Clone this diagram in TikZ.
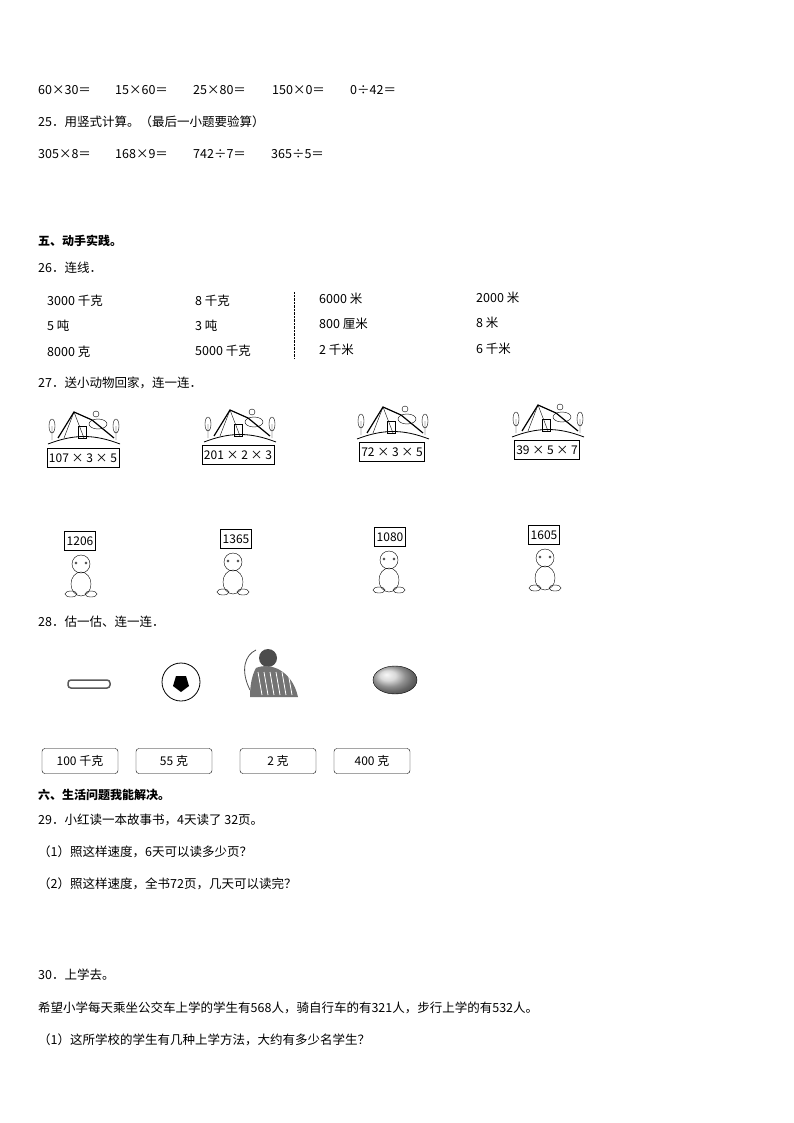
\documentclass[tikz,border=0pt]{standalone}
\usepackage{fontspec}
\setmainfont{Noto Sans CJK SC}
\begin{document}
\begin{tikzpicture}[x=1pt,y=-1pt,
  txt/.style={anchor=west,inner sep=0,font=\fontsize{12.5}{14}\selectfont},
  bld/.style={txt,font=\fontsize{12}{14}\selectfont\bfseries},
  lab/.style={draw,thick,inner sep=2pt,font=\fontsize{12}{13}\selectfont,minimum height=19},
  wbox/.style={draw,rounded corners=3pt,minimum width=76,minimum height=25,font=\fontsize{12}{13}\selectfont},
  house/.pic={
    \draw[thick] (-36,18) .. controls (-10,8) and (10,8) .. (36,18);
    \draw[line width=1.2pt] (-26,12) -- (-10,-14) -- (8,-6) -- (30,12);
    \draw (-10,-14) -- (-20,12) (-10,-14) -- (0,12);
    \draw (-6,0) rectangle (2,12);
    \draw (14,-2) ellipse (9 and 5);
    \draw (12,-12) circle (3);
    \draw (-32,14) -- (-32,0) ellipse (3 and 7);
    \draw (32,14) -- (32,0) ellipse (3 and 7);
  },
  animal/.pic={
    \draw (0,-8) circle (9);
    \draw (0,12) ellipse (10 and 12);
    \draw (-5,-9) circle (1.2) (5,-9) circle (1.2);
    \draw (-10,22) ellipse (6 and 3) (10,22) ellipse (6 and 3);
  }]
\useasboundingbox (0,0) rectangle (794,1123);
\node[txt] (a1) at (38,90) {60×30＝};
\node[txt] (a2) at (115,90) {15×60＝};
\node[txt] (a3) at (193,90) {25×80＝};
\node[txt] (a4) at (272,90) {150×0＝};
\node[txt] (a5) at (350,90) {0÷42＝};
\node[txt] (q25) at (38,122) {25．用竖式计算。（最后一小题要验算）};
\node[txt] (b1) at (38,154) {305×8＝};
\node[txt] (b2) at (115,154) {168×9＝};
\node[txt] (b3) at (193,154) {742÷7＝};
\node[txt] (b4) at (271,154) {365÷5＝};
\node[bld] (s5) at (38,241) {五、动手实践。};
\node[txt] (q26) at (38,268) {26．连线．};
\node[txt] (c11) at (47,301) {3000 千克};
\node[txt] (c12) at (195,301) {8 千克};
\node[txt] (c13) at (319,299) {6000 米};
\node[txt] (c14) at (476,298) {2000 米};
\node[txt] (c21) at (47,326) {5 吨};
\node[txt] (c22) at (195,326) {3 吨};
\node[txt] (c23) at (319,324) {800 厘米};
\node[txt] (c24) at (476,323) {8 米};
\node[txt] (c31) at (47,352) {8000 克};
\node[txt] (c32) at (195,351) {5000 千克};
\node[txt] (c33) at (319,350) {2 千米};
\node[txt] (c34) at (476,349) {6 千米};
\coordinate (d1) at (294,292); \coordinate (d2) at (294,358);
\draw[densely dotted] (d1) -- (d2);
\node[txt] (q27) at (38,383) {27．送小动物回家，连一连．};
\pic at (84,426) {house}; \pic at (240,424) {house};
\pic at (393,421) {house}; \pic at (548,419) {house};
\node[lab] (h1) at (83,458) {107 × 3 × 5};
\node[lab] (h2) at (238,455) {201 × 2 × 3};
\node[lab] (h3) at (392,452) {72 × 3 × 5};
\node[lab] (h4) at (547,450) {39 × 5 × 7};
\node[lab] (n1) at (80,541) {1206};
\node[lab] (n2) at (236,539) {1365};
\node[lab] (n3) at (390,537) {1080};
\node[lab] (n4) at (544,535) {1605};
\pic at (81,572) {animal}; \pic at (233,570) {animal};
\pic at (389,568) {animal}; \pic at (545,566) {animal};
\node[txt] (q28) at (38,622) {28．估一估、连一连．};
\draw[gray!70!black,line width=1.5pt,rounded corners=3pt] (68,680) rectangle (110,688);
\node[draw,thick,circle,minimum size=38] (ball) at (181,682) {};
\fill (176,676) -- (186,676) -- (189,686) -- (181,692) -- (173,686) -- cycle;
\fill[black!70] (268,658) circle (9);
\fill[black!55] (256,668) .. controls (270,662) and (292,670) .. (298,697) -- (250,697) .. controls (250,685) and (252,675) .. (256,668);
\foreach \i in {0,...,5} \draw[white,thick] (258+6*\i,672) -- (262+6*\i,695);
\draw[thick,black!70] (250,690) .. controls (240,670) and (245,655) .. (256,650);
\shade[ball color=gray!40,draw=black] (395,680) ellipse (22 and 14);
\node[wbox] (w1) at (80,761) {100 千克};
\node[wbox] (w2) at (174,761) {55 克};
\node[wbox] (w3) at (278,761) {2 克};
\node[wbox] (w4) at (372,761) {400 克};
\node[bld] (s6) at (38,795) {六、生活问题我能解决。};
\node[txt] (q29) at (38,820) {29．小红读一本故事书，4天读了 32页。};
\node[txt] (q291) at (38,852) {（1）照这样速度，6天可以读多少页？};
\node[txt] (q292) at (38,884) {（2）照这样速度，全书72页，几天可以读完？};
\node[txt] (q30) at (38,975) {30．上学去。};
\node[txt] (q30a) at (38,1008) {希望小学每天乘坐公交车上学的学生有568人，骑自行车的有321人，步行上学的有532人。};
\node[txt] (q301) at (38,1040) {（1）这所学校的学生有几种上学方法，大约有多少名学生？};
\end{tikzpicture}
\end{document}
